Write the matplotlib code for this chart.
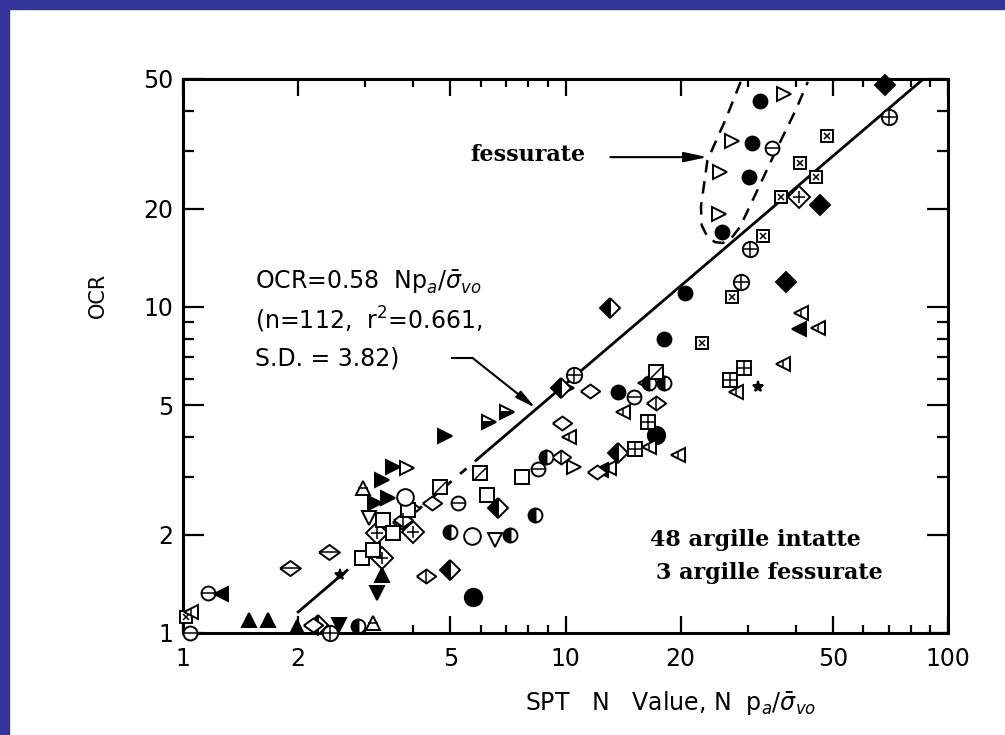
import matplotlib
matplotlib.use("Agg")
import matplotlib.pyplot as plt
from matplotlib.patches import Rectangle
from matplotlib.ticker import FixedLocator, FixedFormatter, NullFormatter

# ---------------- data ----------------
filled_circle_x = [32.2, 30.7, 30.1, 25.6, 20.5, 18.1, 13.7]
filled_circle_y = [42.9, 31.8, 25.0, 17.0, 11.0, 7.98, 5.48]
big_circle_x = [17.2, 5.74]
big_circle_y = [4.05, 1.29]
open_rtri_x = [37.2, 27.2, 25.3, 25.2, 10.1, 10.5, 3.86]
open_rtri_y = [45.0, 32.3, 25.9, 19.3, 5.64, 3.23, 3.21]
circ_hline_x = [34.6, 15.1, 5.25, 8.49, 1.16, 1.04]
circ_hline_y = [30.8, 5.30, 2.50, 3.18, 1.33, 1.0]
sq_dot_x = [48.2, 41.0, 45.1, 36.5, 32.8, 27.2, 22.8, 1.02]
sq_dot_y = [33.5, 27.7, 25.0, 21.7, 16.5, 10.7, 7.76, 1.12]
circ_cross_x = [70.1, 30.3, 28.7, 10.5, 2.43]
circ_cross_y = [38.3, 15.1, 11.9, 6.18, 1.0]
filled_diam_x = [68.4, 46.2, 37.7]
filled_diam_y = [48.0, 20.6, 11.9]
diam_cross_x = [40.7, 3.22, 3.32, 4.00]
diam_cross_y = [21.7, 2.03, 1.70, 2.04]
half_diam_x = [13.1, 9.71, 6.68, 5.00, 13.7, 2.26]
half_diam_y = [9.93, 5.64, 2.42, 1.56, 3.56, 1.06]
open_ltri_x = [41.2, 45.7, 37.0, 27.9, 16.1, 14.1, 10.2, 16.5, 19.7, 13.0, 1.05]
open_ltri_y = [9.59, 8.63, 6.68, 5.48, 5.85, 4.76, 3.99, 3.72, 3.52, 3.21, 1.16]
filled_ltri_x = [40.7, 1.26, 12.4]
filled_ltri_y = [8.57, 1.32, 3.16]
grid_sq_x = [29.2, 27.0, 16.4, 15.2]
grid_sq_y = [6.50, 5.97, 4.44, 3.67]
star_x = [31.8, 2.58]
star_y = [5.69, 1.51]
open_diam_x = [11.6, 9.82, 12.1, 4.49, 3.91, 3.74, 2.19]
open_diam_y = [5.52, 4.41, 3.12, 2.50, 2.42, 2.19, 1.06]
diam_vline_x = [17.2, 9.71, 4.33, 3.77]
diam_vline_y = [5.08, 3.47, 1.50, 2.22]
diam_hline_x = [2.41, 1.91]
diam_hline_y = [1.77, 1.58]
half_circ_x = [16.5, 18.1, 8.87, 8.34, 5.00, 7.18, 2.87]
half_circ_y = [5.85, 5.85, 3.47, 2.30, 2.04, 2.00, 1.05]
open_sq_x = [6.25, 7.71, 3.34, 3.55, 2.94, 3.14, 3.88]
open_sq_y = [2.65, 3.01, 2.22, 2.03, 1.70, 1.80, 2.38]
sq_diag_x = [5.99, 17.2, 4.71]
sq_diag_y = [3.10, 6.32, 2.81]
open_circ_x = [3.81, 5.71]
open_circ_y = [2.61, 1.98]
open_dtri_x = [3.07, 6.56]
open_dtri_y = [2.25, 1.93]
filled_rtri_x = [4.85, 3.53, 3.32, 3.18, 3.44]
filled_rtri_y = [4.02, 3.23, 2.94, 2.50, 2.59]
half_rtri_x = [6.32, 7.05]
half_rtri_y = [4.44, 4.76]
open_utri_x = [2.96, 3.14]
open_utri_y = [2.78, 1.07]
filled_utri_x = [1.49, 1.67, 3.32, 1.99]
filled_utri_y = [1.10, 1.10, 1.51, 1.04]
filled_dtri_x = [3.22, 2.55]
filled_dtri_y = [1.33, 1.06]

# regression OCR = 0.58 N pa/sigma'vo
fit_slope = 0.58
fit_n = [2.0, 2.6, 5.9, 86.0]   # start, dashed part start/end, end

# dashed envelope of the fissured clays
fiss_x = [28.7, 26.2, 23.5, 22.6, 22.7, 23.5, 24.6, 25.8, 27.2, 28.6, 31.8, 35.9, 40.0, 43.0]
fiss_y = [49.0, 37.5, 28.2, 20.3, 17.8, 16.4, 15.8, 15.7, 16.3, 17.6, 22.9, 31.0, 40.2, 49.0]

x_ticks = [1, 2, 5, 10, 20, 50, 100]
x_minor = [3, 4, 6, 7, 8, 9, 30, 40, 60, 70, 80, 90]
y_ticks = [1, 2, 5, 10, 20, 50]
y_minor = [3, 4, 6, 7, 8, 9, 30, 40]

# ---------------- figure ----------------
W, H = 1005, 735
fig = plt.figure(figsize=(W / 100, H / 100), dpi=100)
fig.patch.set_facecolor("white")
blue = "#333399"
fig.patches.append(Rectangle((0, 1 - 9 / H), 1, 9 / H, transform=fig.transFigure,
                             color=blue, zorder=0))
fig.patches.append(Rectangle((0, 0), 9 / W, 1, transform=fig.transFigure,
                             color=blue, zorder=0))

ax = fig.add_axes([183 / W, 1 - 633 / H, (948 - 183) / W, (633 - 79) / H])
ax.set_xscale("log")
ax.set_yscale("log")
ax.set_xlim(1, 100)
ax.set_ylim(1, 50)

for s in ax.spines.values():
    s.set_linewidth(2.2)

ax.xaxis.set_major_locator(FixedLocator(x_ticks))
ax.xaxis.set_major_formatter(FixedFormatter([str(t) for t in x_ticks]))
ax.xaxis.set_minor_locator(FixedLocator(x_minor))
ax.xaxis.set_minor_formatter(NullFormatter())
ax.yaxis.set_major_locator(FixedLocator(y_ticks))
ax.yaxis.set_major_formatter(FixedFormatter([str(t) for t in y_ticks]))
ax.yaxis.set_minor_locator(FixedLocator(y_minor))
ax.yaxis.set_minor_formatter(NullFormatter())

ax.tick_params(which="both", direction="in", top=True, right=True, width=1.6,
               labelsize=17)
ax.tick_params(axis="x", which="major", length=12, pad=10)
ax.tick_params(axis="x", which="minor", length=6)
ax.tick_params(axis="y", which="major", length=15, pad=7)
ax.tick_params(axis="y", which="minor", length=8)

# fit line
lw_fit = 2.0
ax.plot([fit_n[0], fit_n[1]], [fit_slope * fit_n[0], fit_slope * fit_n[1]],
        color="black", lw=lw_fit, zorder=2)
ax.plot([fit_n[1], fit_n[2]], [fit_slope * fit_n[1], fit_slope * fit_n[2]],
        color="black", lw=lw_fit, ls=(0, (3, 4)), zorder=2)
ax.plot([fit_n[2], fit_n[3]], [fit_slope * fit_n[2], fit_slope * fit_n[3]],
        color="black", lw=lw_fit, zorder=2)

# fissured envelope
ax.plot(fiss_x, fiss_y, color="black", lw=1.8, ls=(0, (5, 3.5)), zorder=2,
        clip_on=True)

# ---------------- markers ----------------
MS = 10
EW = 1.4
wide_diam = [(-1.0, 0.0), (0.0, 0.72), (1.0, 0.0), (0.0, -0.72), (-1.0, 0.0)]
diag = [(-1.0, -1.0), (1.0, 1.0)]


def pts(xs, ys, marker, face="white", fill="full", ms=MS, overlay=None, ov_ms=None,
        ov_ew=1.1):
    ax.plot(xs, ys, ls="none", marker=marker, ms=ms, mfc=face, mec="black",
            mew=EW, fillstyle=fill, markerfacecoloralt="white", zorder=4,
            clip_on=False)
    if overlay is not None:
        ax.plot(xs, ys, ls="none", marker=overlay, ms=ov_ms or ms * 0.75,
                mec="black", mew=ov_ew, zorder=5, clip_on=False)


pts(filled_circle_x, filled_circle_y, "o", face="black", ms=10)
pts(big_circle_x, big_circle_y, "o", face="black", ms=12.5)
pts(open_rtri_x, open_rtri_y, ">", ms=10)
pts(circ_hline_x, circ_hline_y, "o", overlay="_", ov_ms=9.5)
pts(sq_dot_x, sq_dot_y, "s", ms=9, overlay="x", ov_ms=5)
pts(circ_cross_x, circ_cross_y, "o", ms=11, overlay="+", ov_ms=10)
pts(filled_diam_x, filled_diam_y, "D", face="black", ms=10)
pts(diam_cross_x, diam_cross_y, "D", ms=11, overlay="+", ov_ms=9)
pts(half_diam_x, half_diam_y, "D", face="black", fill="left", ms=10.5)
pts(open_ltri_x, open_ltri_y, "<", ms=10, overlay="|", ov_ms=5)
pts(filled_ltri_x, filled_ltri_y, "<", face="black", ms=10)
pts(grid_sq_x, grid_sq_y, "s", ms=9.5, overlay="+", ov_ms=9.5)
pts(star_x, star_y, "*", face="black", ms=8)
pts(open_diam_x, open_diam_y, wide_diam, ms=14)
pts(diam_vline_x, diam_vline_y, wide_diam, ms=14, overlay="|", ov_ms=10)
pts(diam_hline_x, diam_hline_y, wide_diam, ms=15, overlay="_", ov_ms=15)
pts(half_circ_x, half_circ_y, "o", face="black", fill="left", ms=10)
pts(open_sq_x, open_sq_y, "s", ms=10)
pts(sq_diag_x, sq_diag_y, "s", ms=10, overlay=diag, ov_ms=8)
pts(open_circ_x, open_circ_y, "o", ms=12)
pts(open_dtri_x, open_dtri_y, "v", ms=10)
pts(filled_rtri_x, filled_rtri_y, ">", face="black", ms=10)
pts(half_rtri_x, half_rtri_y, ">", face="black", fill="bottom", ms=10)
pts(open_utri_x, open_utri_y, "^", ms=10, overlay="_", ov_ms=7)
pts(filled_utri_x, filled_utri_y, "^", face="black", ms=10)
pts(filled_dtri_x, filled_dtri_y, "v", face="black", ms=10)

# ---------------- texts & annotations ----------------
sans = "DejaVu Sans"
tfs = 17
ax.text(0.094, 0.634, r"OCR=0.58  Np$_a$/$\bar{\sigma}_{vo}$", transform=ax.transAxes,
        fontsize=tfs, family=sans, va="center", ha="left")
ax.text(0.094, 0.565, r"(n=112,  r$^2$=0.661,", transform=ax.transAxes,
        fontsize=tfs, family=sans, va="center", ha="left")
ax.text(0.094, 0.496, "S.D. = 3.82)", transform=ax.transAxes,
        fontsize=tfs, family=sans, va="center", ha="left")

# bent leader arrow to the fit line
lead_x = [5.06, 5.71]
lead_y = [6.98, 6.98]
ax.plot(lead_x, lead_y, color="black", lw=1.5, zorder=3)
ax.annotate("", xy=(8.35, 4.90), xytext=(5.71, 6.98),
            arrowprops=dict(arrowstyle="-|>,head_length=1.2,head_width=0.25",
                            color="black", lw=1.5, shrinkA=0, shrinkB=0))

serif = "DejaVu Serif"
ax.text(0.375, 0.863, "fessurate", transform=ax.transAxes, fontsize=16,
        family=serif, weight="bold", va="center", ha="left")
ax.annotate("", xy=(23.5, 28.8), xytext=(13.1, 28.8),
            arrowprops=dict(arrowstyle="-|>,head_length=1.4,head_width=0.3",
                            color="black", lw=1.5, shrinkA=0, shrinkB=0))

ax.text(0.610, 0.168, "48 argille intatte", transform=ax.transAxes, fontsize=16,
        family=serif, weight="bold", va="center", ha="left")
ax.text(0.618, 0.108, "3 argille fessurate", transform=ax.transAxes, fontsize=16,
        family=serif, weight="bold", va="center", ha="left")

ax.set_xlabel(r"SPT   N   Value, N  p$_a$/$\bar{\sigma}_{vo}$", fontsize=17, family=sans)
ax.xaxis.set_label_coords(0.637, -0.126)
ax.set_ylabel("OCR", fontsize=15, family=sans)
ax.yaxis.set_label_coords(-0.111, 0.61)
ax.xaxis.label.set_va("center")
ax.yaxis.label.set_va("center")

fig.savefig("out.png", dpi=100)
